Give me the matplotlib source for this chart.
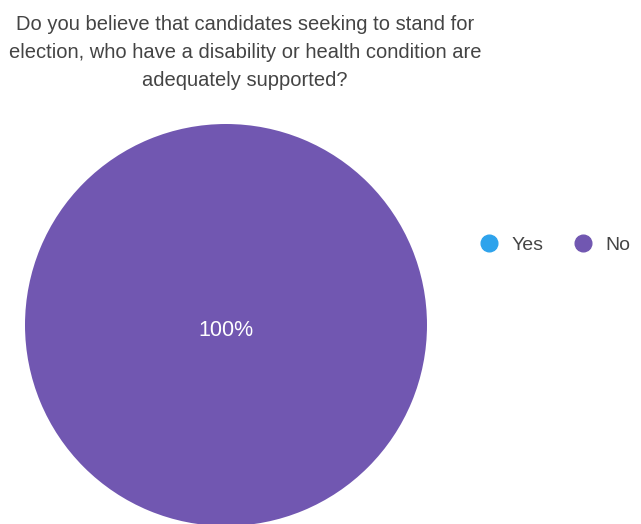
import matplotlib
matplotlib.use("Agg")
import matplotlib.pyplot as plt
from matplotlib.lines import Line2D

plt.rcParams['font.family'] = ['Liberation Sans', 'DejaVu Sans']

# survey answers
answers = ["Yes", "No"]
shares = [0, 100]
colors = ["#2ea3ec", "#7157b1"]
title = ("Do you believe that candidates seeking to stand for\n"
         "election, who have a disability or health condition are\n"
         "adequately supported?")

W, H = 641, 524
fig = plt.figure(figsize=(W / 100, H / 100), dpi=100)

# pie axes, centre (226, 325) px from top-left, radius ~201 px
cx, cy, r = 226, 325, 201
ax = fig.add_axes([(cx - r) / W, (H - cy - r) / H, 2 * r / W, 2 * r / H])
ax.pie(shares, colors=colors, startangle=90, counterclock=False,
       radius=1, wedgeprops=dict(linewidth=0))
ax.set_xlim(-1, 1)
ax.set_ylim(-1, 1)
ax.set_aspect("equal")
ax.axis("off")

# percentage label for the non-empty slice
for name, val in zip(answers, shares):
    if val > 0:
        ax.text(0, -0.025, f"{val}%", ha="center", va="center",
                color="white", fontsize=15.5)

fig.text(245 / W, 1 - 53 / H, title, ha="center", va="center",
         fontsize=14.5, color="#444444", linespacing=1.6)

handles = [Line2D([], [], marker="o", linestyle="", markersize=12,
                  markerfacecolor=c, markeredgecolor=c) for c in colors]
fig.legend(handles, answers, loc="center left", ncol=2, frameon=False,
           bbox_to_anchor=(452 / W, 1 - 245 / H), fontsize=14,
           handletextpad=0.15, columnspacing=1.05, labelcolor="#444444")

fig.savefig("out.png", dpi=100)
